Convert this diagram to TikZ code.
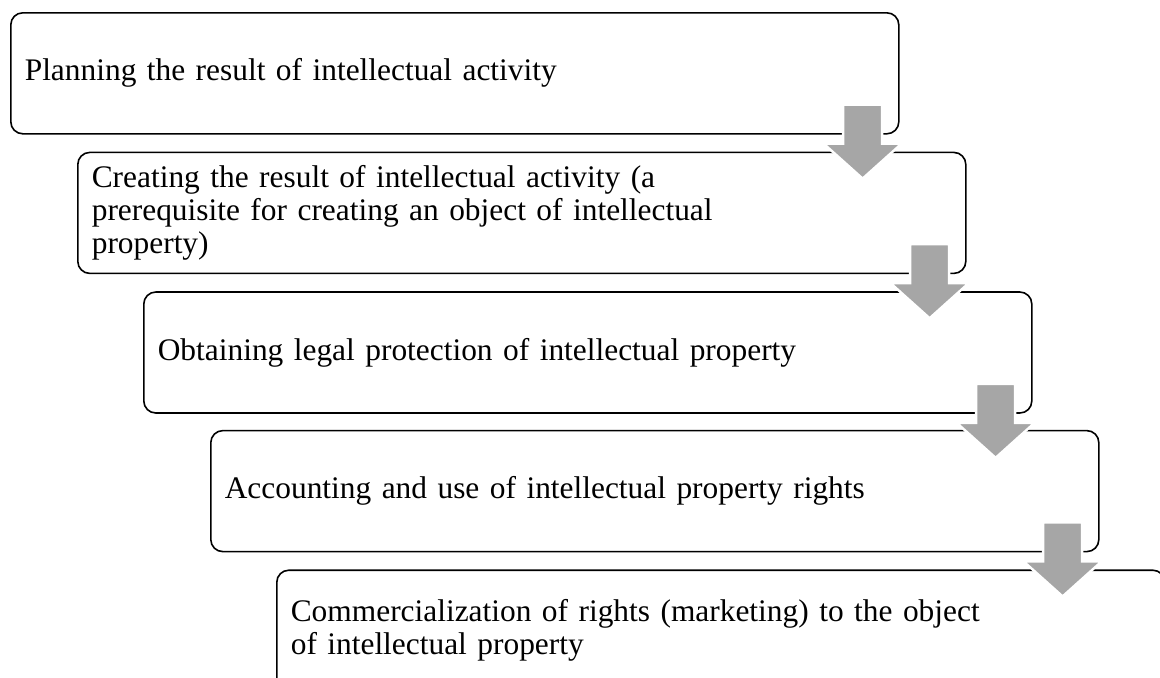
\documentclass[tikz,border=0pt]{standalone}
\usepackage{fontspec}
\setmainfont{Liberation Serif}
\usepackage{xcolor}
\usepackage{tikz}
\usetikzlibrary{positioning}

\definecolor{arrowgray}{HTML}{A6A6A6}

\begin{document}
\begin{tikzpicture}[
      x = .5pt, y = -.5pt,
      box/.style  = {draw = black, line width = .8pt, rounded corners = 6pt,
                     anchor = north west, minimum width = 444pt,
                     minimum height = 60.5pt, text width = 430pt,
                     inner xsep = 7pt, align = left,
                     font = \fontsize{15.7}{16.5}\selectfont},
      downarrow/.pic = {\draw[white, line width = 1.2pt, fill = arrowgray]
                     (-19.5,0) -- (19.5,0) -- (19.5,39) -- (39,39) -- (0,74)
                     -- (-39,39) -- (-19.5,39) -- cycle;}
    ]

  \clip (0,0) rectangle (1160,677);

  % ---------- stages ---------------------------------------------------
  \node[box] (plan) at (10,12) {Planning the result of intellectual activity};
  \node[box] (create) at ([shift={(67,17)}]plan.south west)
        {Creating the result of intellectual activity (a\\
         prerequisite for creating an object of intellectual\\
         property)};
  \node[box] (protect) at ([shift={(66,17)}]create.south west)
        {Obtaining legal protection of intellectual property};
  \node[box] (account) at ([shift={(67,16)}]protect.south west)
        {Accounting and use of intellectual property rights};
  \node[box] (commerce) at ([shift={(66,17)}]account.south west)
        {Commercialization of rights (marketing) to the object\\
         of intellectual property};

  % ---------- arrows ---------------------------------------------------
  \foreach \s in {plan, create, protect, account}
    \path (\s.south east) ++(-37,-30) pic {downarrow};

\end{tikzpicture}
\end{document}
